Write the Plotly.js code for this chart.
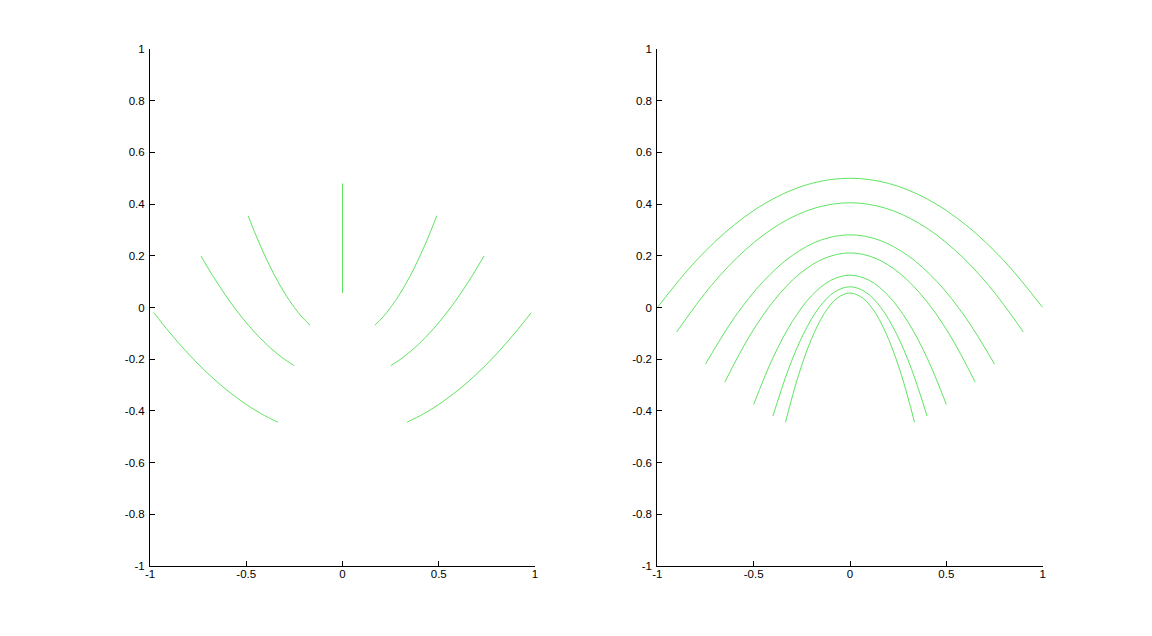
<!DOCTYPE html>
<html>
<head>
<meta charset="utf-8">
<script src="https://cdn.plot.ly/plotly-3.0.1.min.js"></script>
<style>html,body{margin:0;padding:0;background:#fff;}#chart{width:1152px;height:636px;}</style>
</head>
<body>
<div id="chart"></div>
<script>
// Tick values and labels (shared by both panels)
const tickVals = [-1, -0.8, -0.6, -0.4, -0.2, 0, 0.2, 0.4, 0.6, 0.8, 1];
const tickText = ['-1', '-0.8', '-0.6', '-0.4', '-0.2', '0', '0.2', '0.4', '0.6', '0.8', '1'];
const xTickVals = [-1, -0.5, 0, 0.5, 1];
const xTickText = ['-1', '-0.5', '0', '0.5', '1'];

// Left panel: seven upward-opening curves
const leftX_m100 = [-0.335, -0.42, -0.5, -0.6, -0.7, -0.8, -0.9, -0.98];
const leftY_m100 = [-0.444, -0.412, -0.375, -0.32, -0.255, -0.18, -0.095, -0.02];
const leftX_m075 = [-0.251, -0.315, -0.375, -0.45, -0.525, -0.6, -0.675, -0.735];
const leftY_m075 = [-0.225, -0.193, -0.156, -0.101, -0.036, 0.039, 0.124, 0.199];
const leftX_m050 = [-0.168, -0.21, -0.25, -0.3, -0.35, -0.4, -0.45, -0.49];
const leftY_m050 = [-0.069, -0.037, 0, 0.055, 0.12, 0.195, 0.28, 0.355];
const leftX_000 = [0, 0];
const leftY_000 = [0.056, 0.48];
const leftX_p050 = [0.168, 0.21, 0.25, 0.3, 0.35, 0.4, 0.45, 0.49];
const leftY_p050 = [-0.069, -0.037, 0, 0.055, 0.12, 0.195, 0.28, 0.355];
const leftX_p075 = [0.251, 0.315, 0.375, 0.45, 0.525, 0.6, 0.675, 0.735];
const leftY_p075 = [-0.225, -0.193, -0.156, -0.101, -0.036, 0.039, 0.124, 0.199];
const leftX_p100 = [0.335, 0.42, 0.5, 0.6, 0.7, 0.8, 0.9, 0.98];
const leftY_p100 = [-0.444, -0.412, -0.375, -0.32, -0.255, -0.18, -0.095, -0.02];

// Right panel: seven downward-opening arches
const rightX_a = [-1, -0.8, -0.6, -0.4, -0.2, 0, 0.2, 0.4, 0.6, 0.8, 1];
const rightY_a = [0, 0.18, 0.32, 0.42, 0.48, 0.5, 0.48, 0.42, 0.32, 0.18, 0];
const rightX_b = [-0.9, -0.72, -0.54, -0.36, -0.18, 0, 0.18, 0.36, 0.54, 0.72, 0.9];
const rightY_b = [-0.095, 0.085, 0.225, 0.325, 0.385, 0.405, 0.385, 0.325, 0.225, 0.085, -0.095];
const rightX_c = [-0.75, -0.6, -0.45, -0.3, -0.15, 0, 0.15, 0.3, 0.45, 0.6, 0.75];
const rightY_c = [-0.219, -0.039, 0.101, 0.201, 0.261, 0.281, 0.261, 0.201, 0.101, -0.039, -0.219];
const rightX_d = [-0.65, -0.52, -0.39, -0.26, -0.13, 0, 0.13, 0.26, 0.39, 0.52, 0.65];
const rightY_d = [-0.289, -0.109, 0.031, 0.131, 0.191, 0.211, 0.191, 0.131, 0.031, -0.109, -0.289];
const rightX_e = [-0.5, -0.4, -0.3, -0.2, -0.1, 0, 0.1, 0.2, 0.3, 0.4, 0.5];
const rightY_e = [-0.375, -0.195, -0.055, 0.045, 0.105, 0.125, 0.105, 0.045, -0.055, -0.195, -0.375];
const rightX_f = [-0.4, -0.32, -0.24, -0.16, -0.08, 0, 0.08, 0.16, 0.24, 0.32, 0.4];
const rightY_f = [-0.42, -0.24, -0.1, 0, 0.06, 0.08, 0.06, 0, -0.1, -0.24, -0.42];
const rightX_g = [-0.335, -0.268, -0.201, -0.134, -0.067, 0, 0.067, 0.134, 0.201, 0.268, 0.335];
const rightY_g = [-0.444, -0.264, -0.124, -0.024, 0.036, 0.056, 0.036, -0.024, -0.124, -0.264, -0.444];

const lineColor = 'rgb(95,228,95)';
function tr(x, y, xa, ya) {
  return {x: x, y: y, xaxis: xa, yaxis: ya, type: 'scatter', mode: 'lines',
          line: {color: lineColor, width: 1, shape: 'spline'}, hoverinfo: 'skip', showlegend: false};
}

const data = [
  tr(leftX_m100, leftY_m100, 'x', 'y'),
  tr(leftX_m075, leftY_m075, 'x', 'y'),
  tr(leftX_m050, leftY_m050, 'x', 'y'),
  tr(leftX_000, leftY_000, 'x', 'y'),
  tr(leftX_p050, leftY_p050, 'x', 'y'),
  tr(leftX_p075, leftY_p075, 'x', 'y'),
  tr(leftX_p100, leftY_p100, 'x', 'y'),
  tr(rightX_a, rightY_a, 'x2', 'y2'),
  tr(rightX_b, rightY_b, 'x2', 'y2'),
  tr(rightX_c, rightY_c, 'x2', 'y2'),
  tr(rightX_d, rightY_d, 'x2', 'y2'),
  tr(rightX_e, rightY_e, 'x2', 'y2'),
  tr(rightX_f, rightY_f, 'x2', 'y2'),
  tr(rightX_g, rightY_g, 'x2', 'y2')
];

const axFont = {family: 'Liberation Sans, Arial, sans-serif', size: 11.5, color: '#000'};
function xAx(dom, anchor) {
  return {domain: dom, anchor: anchor, range: [-1, 1], showgrid: false, zeroline: false,
          showline: true, linecolor: '#000', linewidth: 1, mirror: false,
          ticks: 'inside', ticklen: 5, tickcolor: '#000', tickwidth: 1, ticklabelstandoff: -3,
          tickmode: 'array', tickvals: xTickVals, ticktext: xTickText, tickfont: axFont, fixedrange: true};
}
function yAx(anchor) {
  return {domain: [0.1101, 0.9230], anchor: anchor, range: [-1, 1], showgrid: false, zeroline: false,
          showline: true, linecolor: '#000', linewidth: 1, mirror: false,
          ticks: 'inside', ticklen: 5, tickcolor: '#000', tickwidth: 1, ticklabelstandoff: 2,
          tickmode: 'array', tickvals: tickVals, ticktext: tickText, tickfont: axFont, fixedrange: true};
}

const layout = {
  width: 1152, height: 636,
  margin: {l: 0, r: 0, t: 0, b: 0},
  paper_bgcolor: '#fff', plot_bgcolor: '#fff',
  showlegend: false,
  xaxis: xAx([0.1302, 0.4644], 'y'),
  yaxis: yAx('x'),
  xaxis2: xAx([0.5706, 0.9051], 'y2'),
  yaxis2: yAx('x2')
};

Plotly.newPlot('chart', data, layout, {staticPlot: true, displayModeBar: false});
</script>
</body>
</html>
